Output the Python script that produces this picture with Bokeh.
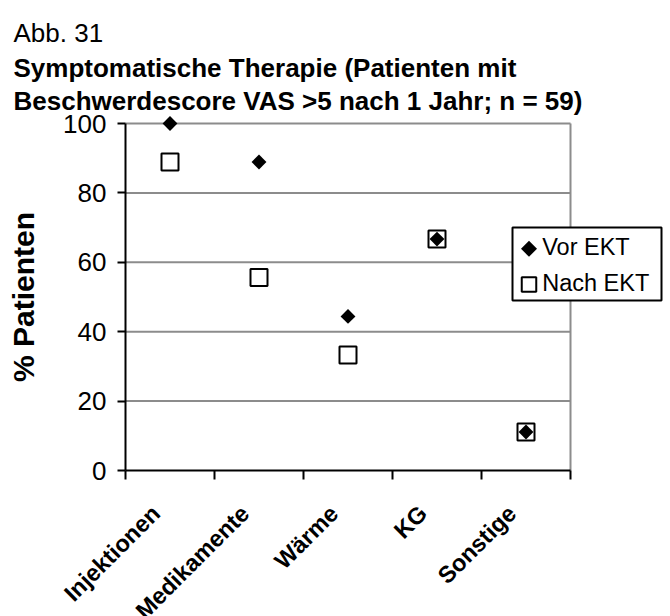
import math
from bokeh.plotting import figure
from bokeh.models import (Range1d, FixedTicker, Label, LabelSet, ColumnDataSource)
from bokeh.core.properties import value
from bokeh.embed import file_html
from bokeh.resources import INLINE

# ---- data ----
categories = ["Injektionen", "Medikamente", "Wärme", "KG", "Sonstige"]
vor_ekt = [100.0, 88.9, 44.4, 66.7, 11.1]
nach_ekt = [88.9, 55.6, 33.3, 66.7, 11.1]
y_ticks = [0, 20, 40, 60, 80, 100]
title_lines = ["Abb. 31",
               "Symptomatische Therapie (Patienten mit",
               "Beschwerdescore VAS >5 nach 1 Jahr; n = 59)"]
series_names = ["Vor EKT", "Nach EKT"]
y_label = "% Patienten"

FONT = "Liberation Sans"
GRAY = "#8c8c8c"

n_cat = len(categories)
xpos = [i + 0.5 for i in range(n_cat)]
x_edges = list(range(n_cat + 1))
y_top, y_bottom = y_ticks[-1], y_ticks[0]

# ---- layout (pixels) ----
W, H = 670, 616
FRAME_L, FRAME_R, FRAME_T, FRAME_B = 125, 570, 123, 470   # plot area in px
px_x = (FRAME_R - FRAME_L) / n_cat                          # px per category
px_y = (FRAME_B - FRAME_T) / (y_top - y_bottom)             # px per %


def dx(px):  # pixel column -> data x
    return (px - FRAME_L) / px_x


def dy(py):  # pixel row -> data y
    return (FRAME_B - py) / px_y


# whole canvas is the plot frame; axes are pinned at x=0 / y=0
p = figure(width=W, height=H,
           x_range=Range1d(dx(0), dx(W)), y_range=Range1d(dy(H), dy(0)),
           output_backend="svg", toolbar_location=None,
           min_border=0, min_border_left=0, min_border_right=0,
           min_border_top=0, min_border_bottom=0)
p.background_fill_color = "white"
p.border_fill_color = "white"
p.outline_line_color = None
p.xgrid.grid_line_color = None
p.ygrid.grid_line_color = None

# horizontal grid lines (incl. top border) and right border of plot area
gl = y_ticks[1:]
p.segment(x0=[0] * len(gl), x1=[n_cat] * len(gl), y0=gl, y1=gl,
          line_color=GRAY, line_width=2)
p.segment(x0=[n_cat], x1=[n_cat], y0=[y_bottom], y1=[y_top],
          line_color=GRAY, line_width=2)

# y axis
ya = p.yaxis[0]
ya.fixed_location = 0
ya.ticker = FixedTicker(ticks=y_ticks)
ya.bounds = (y_bottom, y_top)
ya.axis_line_color = "black"
ya.axis_line_width = 2
ya.major_tick_line_color = "black"
ya.major_tick_line_width = 2
ya.major_tick_out = 8
ya.major_tick_in = 0
ya.minor_tick_line_color = None
ya.major_label_text_font = FONT
ya.major_label_text_font_size = "26px"
ya.major_label_text_color = "black"
ya.major_label_standoff = 11
ya.axis_label = y_label
ya.axis_label_text_font = FONT
ya.axis_label_text_font_size = "30px"
ya.axis_label_text_font_style = "bold"
ya.axis_label_text_color = "black"
ya.axis_label_standoff = 20

# x axis: ticks at category boundaries
xa = p.xaxis[0]
xa.fixed_location = 0
xa.ticker = FixedTicker(ticks=x_edges)
xa.bounds = (0, n_cat)
xa.major_label_overrides = {i: "" for i in x_edges}
xa.axis_line_color = "black"
xa.axis_line_width = 2
xa.major_tick_line_color = "black"
xa.major_tick_line_width = 2
xa.major_tick_out = 9
xa.major_tick_in = 0
xa.minor_tick_line_color = None

# markers
r_nach = p.scatter(xpos, nach_ekt, marker="square", size=17,
                   fill_color="white", line_color="black", line_width=2)
r_vor = p.scatter(xpos, vor_ekt, marker="square", angle=math.pi / 4, size=10.5,
                  fill_color="black", line_color=None)

# category labels (rotated)
src = ColumnDataSource(dict(x=xpos, y=[dy(509)] * n_cat, text=categories))
labels = LabelSet(x="x", y="y", text="text", source=src, angle=math.pi / 4,
                  x_offset=-14, text_align="right", text_baseline="middle",
                  text_font=value(FONT), text_font_style="bold",
                  text_font_size="23.5px", text_color="black")
p.add_layout(labels)

# titles
title_base = [32, 67, 100]
title_style = ["normal", "bold", "bold"]
for t, by, st in zip(title_lines, title_base, title_style):
    p.add_layout(Label(x=dx(13), y=dy(by), text=t, text_font=FONT,
                       text_font_size="26px", text_font_style=st,
                       text_color="black", text_baseline="alphabetic",
                       text_align="left"))

# ---- legend box (drawn after the grid so it covers it) ----
LEG_L, LEG_R, LEG_T, LEG_B = 512, 661, 227, 300
SYM_X, TXT_X = 528.5, 541.7
ROW_SYM = [248.3, 284.0]
ROW_MID = [246.0, 282.0]
p.quad(left=[dx(LEG_L)], right=[dx(LEG_R)], top=[dy(LEG_T)], bottom=[dy(LEG_B)],
       fill_color="white", line_color="black", line_width=2)
p.scatter(x=[dx(SYM_X)], y=[dy(ROW_SYM[0])], marker="square", angle=math.pi / 4,
          size=11.3, fill_color="black", line_color=None)
p.scatter(x=[dx(SYM_X)], y=[dy(ROW_SYM[1])], marker="square", size=14.5,
          fill_color="white", line_color="black", line_width=2)
p.text(x=[dx(TXT_X)] * 2, y=[dy(b) for b in ROW_MID], text=series_names,
       text_align="left", text_baseline="middle",
       text_font=value(FONT), text_font_size="23.5px", text_color="black")

open("out.html", "w").write(file_html(p, INLINE))
